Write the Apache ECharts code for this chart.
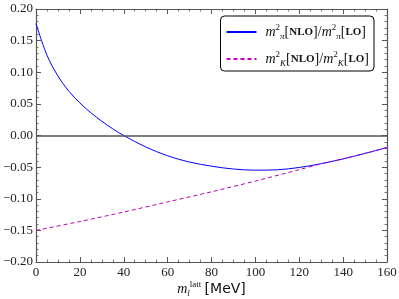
<!DOCTYPE html>
<html>
<head>
<meta charset="utf-8">
<script src="https://cdn.jsdelivr.net/npm/echarts@6/dist/echarts.min.js"></script>
<style>html,body{margin:0;padding:0;background:#fff;}#c{width:399px;height:299px;}</style>
</head>
<body>
<div id="c"></div>
<script>
// Data
var piMass  = [0, 5, 10, 15, 20, 25, 30, 35, 40, 50, 60, 70, 80, 90, 100, 110, 120, 130, 140, 150, 160];
var piRatio = [0.177, 0.127, 0.094, 0.070, 0.0515, 0.036, 0.0225, 0.0105, 0.000, -0.018, -0.032, -0.042, -0.0485, -0.053, -0.0548, -0.0542, -0.0505, -0.0445, -0.037, -0.0283, -0.019];
var kMass   = [0, 20, 40, 60, 80, 100, 120, 130, 140, 150, 160];
var kRatio  = [-0.150, -0.136, -0.121, -0.105, -0.089, -0.072, -0.054, -0.0448, -0.0368, -0.0283, -0.019];
var xTicks  = [0, 20, 40, 60, 80, 100, 120, 140, 160];
var yTicks  = [-0.20, -0.15, -0.10, -0.05, 0.00, 0.05, 0.10, 0.15, 0.20];
var seriesNames = ['pi', 'K'];

function pairs(xs, ys) { return xs.map(function (x, i) { return [x, ys[i]]; }); }

var serif = 'Liberation Serif';
var frame = '#555555';
var rich = {
  m:   { fontFamily: serif, fontStyle: 'italic', fontSize: 14, color: '#111', lineHeight: 20, verticalAlign: 'middle' },
  sup: { fontFamily: serif, fontSize: 9, color: '#111', lineHeight: 20, verticalAlign: 'top', padding: [1, 0, 0, 0] },
  sub: { fontFamily: serif, fontStyle: 'italic', fontSize: 9, color: '#111', lineHeight: 20, verticalAlign: 'bottom', padding: [0, 0, 1, 0] },
  t:   { fontFamily: serif, fontSize: 14, color: '#111', lineHeight: 20, verticalAlign: 'middle' },
  b:   { fontFamily: serif, fontWeight: 'bold', fontSize: 11, color: '#111', lineHeight: 20, verticalAlign: 'middle' },
  s:   { fontFamily: 'DejaVu Sans', fontSize: 14, color: '#111', lineHeight: 20, verticalAlign: 'middle' }
};

var chart = echarts.init(document.getElementById('c'), null, { renderer: 'canvas' });
var tickFmt = function (v) { return v.toFixed(2).replace('-', '\u2212'); };

function minor(n) { return { show: true, splitNumber: n, length: 2.5, lineStyle: { color: frame, width: 0.8 } }; }
var axisLine = { show: true, onZero: false, lineStyle: { color: frame, width: 1.2 } };
var axisTick = { show: true, inside: true, length: 5, lineStyle: { color: frame, width: 1 } };

chart.setOption({
  animation: false,
  backgroundColor: '#ffffff',
  grid: { left: 36, right: 12, top: 9, bottom: 37, containLabel: false, outerBoundsMode: 'none' },
  legend: {
    data: seriesNames,
    right: 25, top: 16,
    orient: 'vertical',
    itemGap: 7,
    itemWidth: 30,
    itemHeight: 14,
    padding: [6, 5, 2, 5],
    backgroundColor: '#ffffff',
    borderColor: '#000000',
    borderWidth: 1,
    borderRadius: 4,
    itemStyle: { opacity: 0 },
    textStyle: { rich: rich, padding: [0, 0, 0, 4] },
    formatter: function (name) {
      var s = name === 'pi' ? '\u03c0' : 'K';
      return '{m|m}{sup|2}{sub|' + s + '}{t|[}{b|NLO}{t|]/}{m|m}{sup|2}{sub|' + s + '}{t|[}{b|LO}{t|]}';
    }
  },
  xAxis: [
    {
      type: 'value', position: 'bottom', min: xTicks[0], max: xTicks[xTicks.length - 1], interval: 20,
      axisLine: axisLine, axisTick: axisTick, minorTick: minor(4), splitLine: { show: false },
      axisLabel: { fontFamily: serif, fontSize: 13, color: '#222', margin: 4 },
      name: '{m|m}{sub|l}{sup|latt} {s|[MeV]}',
      nameLocation: 'middle', nameGap: 17, nameMoveOverlap: false,
      nameTextStyle: { rich: rich }
    },
    {
      type: 'value', position: 'top', min: xTicks[0], max: xTicks[xTicks.length - 1], interval: 20,
      axisLine: axisLine, axisTick: axisTick, minorTick: minor(4), splitLine: { show: false },
      axisLabel: { show: false }
    }
  ],
  yAxis: [
    {
      type: 'value', position: 'left', min: yTicks[0], max: yTicks[yTicks.length - 1], interval: 0.05,
      axisLine: axisLine, axisTick: axisTick, minorTick: minor(5), splitLine: { show: false },
      axisLabel: { fontFamily: serif, fontSize: 13, color: '#222', margin: 3, formatter: tickFmt }
    },
    {
      type: 'value', position: 'right', min: yTicks[0], max: yTicks[yTicks.length - 1], interval: 0.05,
      axisLine: axisLine, axisTick: axisTick, minorTick: minor(5), splitLine: { show: false },
      axisLabel: { show: false }
    }
  ],
  series: [
    {
      name: 'pi', type: 'line', xAxisIndex: 0, yAxisIndex: 0,
      data: pairs(piMass, piRatio), smooth: 0.35, symbol: 'none',
      lineStyle: { color: '#0000ff', width: 1 }, itemStyle: { color: '#0000ff' },
      markLine: {
        silent: true, symbol: 'none', label: { show: false },
        lineStyle: { color: '#555555', width: 1.5, type: 'solid' },
        data: [{ yAxis: 0 }]
      }
    },
    {
      name: 'K', type: 'line', xAxisIndex: 0, yAxisIndex: 0,
      data: pairs(kMass, kRatio), smooth: 0.3, symbol: 'none',
      lineStyle: { color: '#c000c0', width: 1, type: [4, 3] }, itemStyle: { color: '#c000c0' }
    }
  ]
});
</script>
</body>
</html>
